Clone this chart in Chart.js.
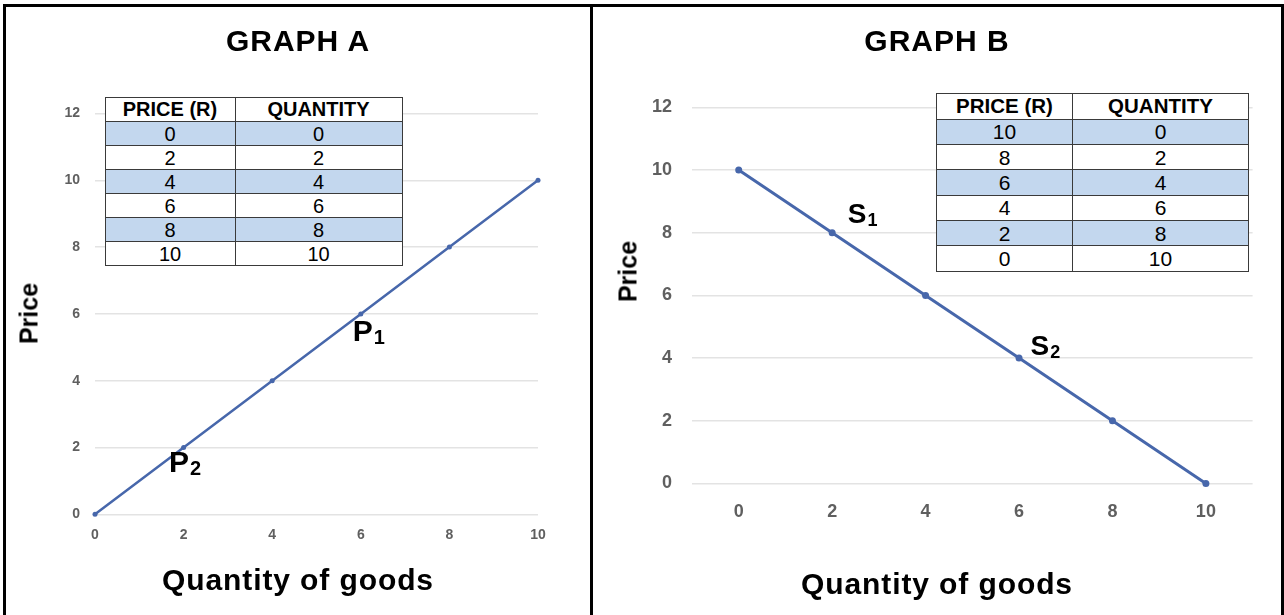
<!DOCTYPE html>
<html>
<head>
<meta charset="utf-8">
<title>Graph A / Graph B</title>
<script src="https://cdn.jsdelivr.net/npm/chart.js@4.4.0/dist/chart.umd.min.js"></script>
<style>
  body { margin: 0; background: #fff; font-family: "Liberation Sans", Arial, sans-serif; }
  #page { position: relative; width: 1284px; height: 615px; overflow: hidden; background: #fff; }
  #frame { position: absolute; left: 3px; top: 4px; width: 1275px; height: 640px; border: 3px solid #000; }
  #divider { position: absolute; left: 590px; top: 4px; width: 2.5px; height: 620px; background: #000; }
  canvas { position: absolute; top: 0; }
  .title { position: absolute; width: 400px; text-align: center; font-weight: bold; font-size: 30px; line-height: 30px; white-space: nowrap; }
  .ytitle { position: absolute; width: 120px; height: 25px; text-align: center; font-weight: bold; font-size: 25px; line-height: 25px; transform: rotate(-90deg); }
  table.dt { position: absolute; border-collapse: collapse; table-layout: fixed; background: #fff; }
  table.dt td, table.dt th { border: 1px solid #3a3a3a; text-align: center; padding: 0; line-height: 1; color: #000; }
  table.dt th { font-weight: bold; }
  table.dt td { font-weight: normal; }
  table.dt tr.blue td { background: #c3d7ee; }
</style>
</head>
<body>
<div id="page">
  <div id="frame"></div>
  <div id="divider"></div>

  <canvas id="graphA" width="590" height="615" style="left:0px"></canvas>
  <canvas id="graphB" width="692" height="615" style="left:592px"></canvas>

  <div class="title" style="left:98px; top:25.5px; letter-spacing:1px">GRAPH A</div>
  <div class="title" style="left:737px; top:25.5px; letter-spacing:1px">GRAPH B</div>
  <div class="title" style="left:98px; top:564.5px; letter-spacing:0.9px">Quantity of goods</div>
  <div class="title" style="left:737px; top:568.5px; letter-spacing:0.9px">Quantity of goods</div>
  <div class="ytitle" style="left:-30.75px; top:300.5px">Price</div>
  <div class="ytitle" style="left:567.5px; top:258.5px">Price</div>

  <table class="dt" id="tableA" style="left:104.5px; top:96.5px; width:297px"></table>
  <table class="dt" id="tableB" style="left:936px; top:93.3px; width:312px"></table>
</div>

<script>
// graph A: price rises with quantity
let quantityA = [0, 2, 4, 6, 8, 10];
let priceA = [0, 2, 4, 6, 8, 10];

// graph B: price falls as quantity rises
let quantityB = ['0', '2', '4', '6', '8', '10'];
let priceB = [10, 8, 6, 4, 2, 0];

// tables (as printed in the picture)
let tablePriceA = [0, 2, 4, 6, 8, 10];
let tableQtyA = [0, 2, 4, 6, 8, 10];
let tablePriceB = [10, 8, 6, 4, 2, 0];
let tableQtyB = [0, 2, 4, 6, 8, 10];

let yMin = 0;
let yMax = 12;
let yStep = 2;

let lineColor = '#4767ab';
let gridColor = '#e3e3e3';
let tickColor = '#5f5f5f';

function buildTable(id, prices, qtys, colW, headH, rowH, headSize, cellSize) {
    let t = document.getElementById(id);
    let html = `<colgroup><col style="width:${colW[0]}px"><col style="width:${colW[1]}px"></colgroup>`;
    html += `<tr style="height:${headH}px"><th style="font-size:${headSize}px">PRICE (R)</th><th style="font-size:${headSize}px">QUANTITY</th></tr>`;
    prices.forEach((p, i) => {
        html += `<tr class="${i % 2 === 0 ? 'blue' : ''}" style="height:${rowH}px">
          <td style="font-size:${cellSize}px">${p}</td><td style="font-size:${cellSize}px">${qtys[i]}</td></tr>`;
    });
    t.innerHTML = html;
}

buildTable('tableA', tablePriceA, tableQtyA, [130, 167], 24.5, 24, 20, 20);
buildTable('tableB', tablePriceB, tableQtyB, [136, 176], 25.5, 25.3, 20.5, 21);

// draws P1, P2, S1, S2 next to their data points
const pointLabels = {
    id: 'pointLabels',
    afterDatasetsDraw(chart, args, opts) {
        const ctx = chart.ctx;
        const meta = chart.getDatasetMeta(0);
        ctx.save();
        ctx.fillStyle = '#000';
        ctx.textBaseline = 'alphabetic';
        ctx.textAlign = 'left';
        opts.items.forEach(it => {
            const pt = meta.data[it.index];
            const x = pt.x + it.dx;
            const y = pt.y + it.dy;
            ctx.font = `bold ${opts.size}px "Liberation Sans", Arial, sans-serif`;
            ctx.fillText(it.letter, x, y);
            const w = ctx.measureText(it.letter).width;
            ctx.font = `bold ${opts.subSize}px "Liberation Sans", Arial, sans-serif`;
            ctx.fillText(it.sub, x + w + 1, y + 3);
        });
        ctx.restore();
    }
};

function yAxis(fontSize, pad) {
    return {
        min: yMin,
        max: yMax,
        afterFit: s => { s.width = 40; },
        ticks: {
            stepSize: yStep,
            padding: pad,
            color: tickColor,
            font: { family: '"Liberation Sans", Arial, sans-serif', size: fontSize, weight: 'bold' }
        },
        grid: { color: gridColor, lineWidth: 1.5, drawTicks: false },
        border: { display: false }
    };
}

new Chart(document.getElementById('graphA'), {
    type: 'line',
    data: {
        datasets: [{
            data: quantityA.map((q, i) => ({ x: q, y: priceA[i] })),
            borderColor: lineColor,
            backgroundColor: lineColor,
            borderWidth: 2.5,
            pointRadius: 2.5,
            pointBorderWidth: 0,
            tension: 0,
            clip: false
        }]
    },
    options: {
        responsive: false,
        animation: false,
        layout: { padding: { left: 55, right: 52, top: 113.5, bottom: 0 } },
        plugins: {
            legend: { display: false },
            tooltip: { enabled: false },
            pointLabels: {
                size: 30, subSize: 20,
                items: [
                    { index: 3, letter: 'P', sub: '1', dx: -8, dy: 27 },
                    { index: 1, letter: 'P', sub: '2', dx: -14.5, dy: 24.5 }
                ]
            }
        },
        scales: {
            x: {
                type: 'linear',
                min: 0,
                max: 10,
                afterFit: s => { s.height = 100.7; },
                ticks: {
                    stepSize: 2,
                    padding: 12,
                    color: tickColor,
                    font: { family: '"Liberation Sans", Arial, sans-serif', size: 14, weight: 'bold' }
                },
                grid: { display: false, drawTicks: false },
                border: { display: false }
            },
            y: yAxis(14, 15)
        }
    },
    plugins: [pointLabels]
});

new Chart(document.getElementById('graphB'), {
    type: 'line',
    data: {
        labels: quantityB,
        datasets: [{
            data: priceB,
            borderColor: lineColor,
            backgroundColor: lineColor,
            borderWidth: 3,
            pointRadius: 3.5,
            pointBorderWidth: 0,
            tension: 0,
            clip: false
        }]
    },
    options: {
        responsive: false,
        animation: false,
        layout: { padding: { left: 60, right: 31.4, top: 107.3, bottom: 0 } },
        plugins: {
            legend: { display: false },
            tooltip: { enabled: false },
            pointLabels: {
                size: 28, subSize: 18,
                items: [
                    { index: 1, letter: 'S', sub: '1', dx: 15.7, dy: -10 },
                    { index: 3, letter: 'S', sub: '2', dx: 11.5, dy: -3 }
                ]
            }
        },
        scales: {
            x: {
                type: 'category',
                offset: true,
                afterFit: s => { s.height = 131.5; },
                ticks: {
                    padding: 17.7,
                    color: tickColor,
                    font: { family: '"Liberation Sans", Arial, sans-serif', size: 18, weight: 'bold' }
                },
                grid: { display: false, drawTicks: false },
                border: { display: false }
            },
            y: yAxis(18, 20)
        }
    },
    plugins: [pointLabels]
});
</script>
</body>
</html>
